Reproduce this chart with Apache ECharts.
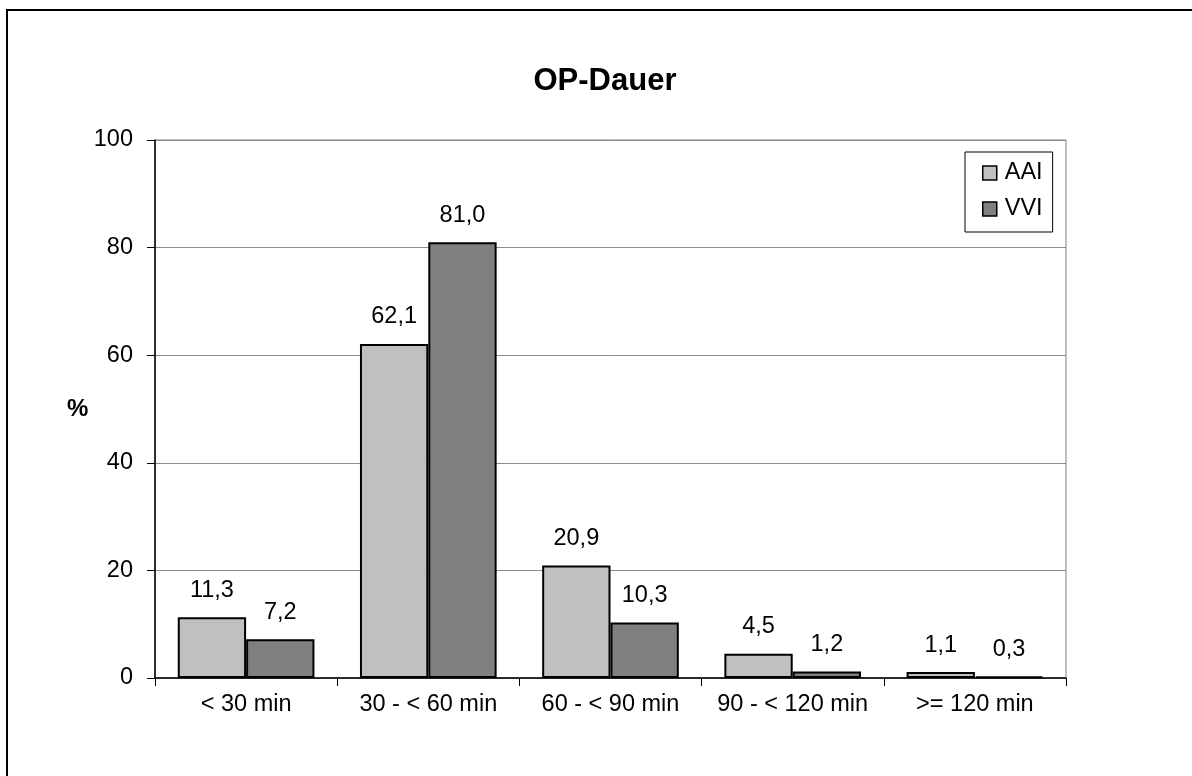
<!DOCTYPE html>
<html>
<head>
<meta charset="utf-8">
<script src="https://cdn.jsdelivr.net/npm/echarts@6/dist/echarts.min.js"></script>
<style>
html,body{margin:0;padding:0;background:#fff;}
#c{width:1192px;height:776px;}
</style>
</head>
<body>
<div id="c"></div>
<script>
var categories = ['< 30 min', '30 - < 60 min', '60 - < 90 min', '90 - < 120 min', '>= 120 min'];
var aai = [11.3, 62.1, 20.9, 4.5, 1.1];
var vvi = [7.2, 81.0, 10.3, 1.2, 0.3];
var seriesNames = ['AAI', 'VVI'];
var yTicks = {min: 0, max: 100, interval: 20};

var FONT = "'Liberation Sans', Arial, sans-serif";
var FS = 23.5;
var chart = echarts.init(document.getElementById('c'), null, {renderer: 'canvas'});
function fmt(p){ return p.value.toFixed(1).replace('.', ','); }
var labelCfg = {show: true, position: 'top', distance: 15, fontSize: FS, color: '#000', fontFamily: FONT, formatter: fmt};
chart.setOption({
  backgroundColor: '#fff',
  animation: false,
  textStyle: {fontFamily: FONT},
  title: {
    text: 'OP-Dauer', left: 600, top: 61, textAlign: 'center',
    textStyle: {fontSize: 31, fontWeight: 'bold', color: '#000', fontFamily: FONT}
  },
  graphic: [
    {type: 'rect', shape: {x: 7, y: 10, width: 1400, height: 1000}, style: {fill: 'none', stroke: '#000', lineWidth: 2}, silent: true},
    {type: 'text', left: 67, top: 397, style: {text: '%', font: 'bold 24px ' + FONT, fill: '#000'}}
  ],
  legend: {
    orient: 'vertical', left: 965, top: 152,
    padding: [9, 10, 11, 17], itemGap: 12,
    itemWidth: 14, itemHeight: 14, icon: 'rect',
    borderColor: '#000', borderWidth: 1, backgroundColor: '#fff',
    textStyle: {fontSize: FS, color: '#000', fontFamily: FONT, padding: [0, 0, 0, 3]},
    itemStyle: {borderColor: '#000', borderWidth: 1.5},
    data: seriesNames
  },
  grid: {left: 155, right: 126, top: 140, bottom: 98, show: true, borderColor: '#808080', borderWidth: 1, backgroundColor: 'transparent'},
  xAxis: {
    type: 'category', data: categories,
    axisLine: {lineStyle: {color: '#000', width: 1.5}},
    axisTick: {show: true, length: 8, lineStyle: {color: '#000'}},
    axisLabel: {fontSize: FS, color: '#000', margin: 15, fontFamily: FONT, interval: 0},
    splitLine: {show: false}
  },
  yAxis: {
    type: 'value', min: yTicks.min, max: yTicks.max, interval: yTicks.interval,
    axisLine: {show: true, lineStyle: {color: '#000', width: 1.5}},
    axisTick: {show: true, length: 8, lineStyle: {color: '#000'}},
    axisLabel: {fontSize: FS, color: '#000', margin: 22, fontFamily: FONT},
    splitLine: {show: true, lineStyle: {color: '#8c8c8c', width: 1}}
  },
  series: [
    {name: seriesNames[0], type: 'bar', data: aai, barGap: '0%', barCategoryGap: '25%',
     itemStyle: {color: '#C0C0C0', borderColor: '#000', borderWidth: 2}, label: labelCfg},
    {name: seriesNames[1], type: 'bar', data: vvi, barGap: '0%', barCategoryGap: '25%',
     itemStyle: {color: '#808080', borderColor: '#000', borderWidth: 2}, label: labelCfg}
  ]
});
</script>
</body>
</html>
